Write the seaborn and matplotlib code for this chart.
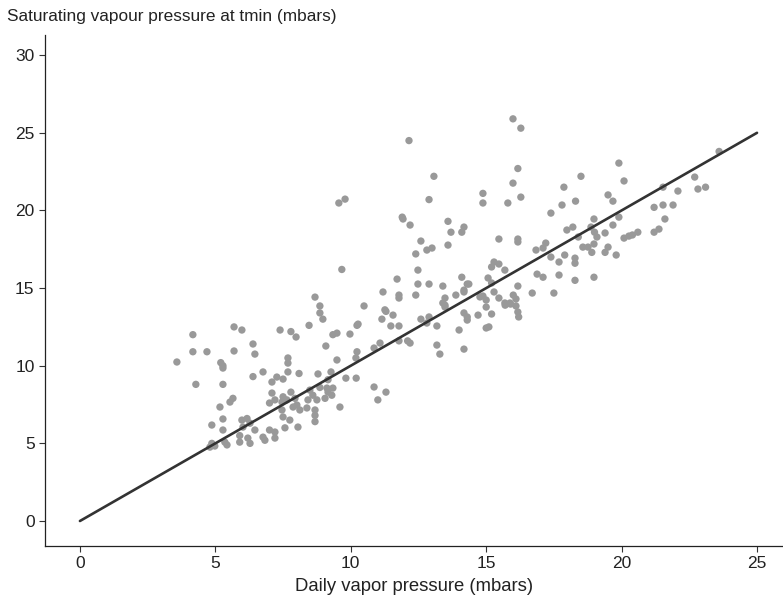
import matplotlib
matplotlib.use("Agg")
import matplotlib.pyplot as plt
import seaborn as sns
import pandas as pd

daily_vp = [
    3.58, 4.17, 4.17, 4.69, 4.28, 5.69, 5.98, 5.69, 6.39, 6.46, 5.2, 5.28, 5.28, 5.28, 6.39, 6.76, 7.09, 7.27, 7.5,
    7.39, 7.79, 7.98, 7.68, 7.68, 7.68, 8.09, 8.46, 8.86, 8.86, 8.97, 9.08, 9.34, 9.49, 9.97, 10.23, 9.49, 10.23,
    9.27, 9.16, 8.79, 9.82, 10.2, 9.34, 7.5, 7.64, 7.79, 7.46, 7.09, 7.2, 7.0, 5.65, 5.54, 5.17, 7.94, 8.01, 7.87,
    8.12, 8.38, 8.49, 8.6, 8.42, 8.75, 8.68, 8.68, 8.68, 8.86, 9.12, 9.05, 9.16, 9.3, 9.6, 7.46, 7.5, 7.75, 7.57,
    8.05, 5.98, 6.17, 6.28, 6.02, 6.46, 5.28, 4.87, 5.28, 7.0, 7.2, 6.76, 7.2, 5.9, 6.2, 6.28, 4.87, 4.8, 5.35,
    4.98, 5.43, 5.9, 6.83,
    9.56, 9.79, 9.67, 8.68, 11.19,
    10.49, 11.3, 11.56, 11.15, 11.48, 11.78, 10.27, 11.78, 12.1, 12.19, 11.08, 10.86, 10.19, 10.86, 11.3, 11.0,
    12.59, 12.89, 12.81, 13.18, 13.18, 13.29, 13.4, 13.48, 14.0, 14.18, 14.3, 14.3, 14.7, 14.18, 15.0, 15.1, 15.2,
    15.0, 15.0, 15.7, 15.9, 16.1, 16.17, 16.2,
    12.15, 13.07, 12.89, 11.9, 11.93, 12.19, 13.59, 13.7, 14.1, 14.18, 12.59, 12.4, 12.81, 13.0, 13.59, 14.88,
    14.88, 15.8, 15.99, 16.28, 16.17, 15.99, 16.28, 15.47, 16.17, 16.17, 17.39, 17.87, 17.8, 17.98, 12.48, 12.48,
    12.89, 11.71, 11.78, 11.78, 12.4, 11.26, 13.4, 14.1, 14.3, 14.36, 14.18, 14.18, 13.88, 13.48, 13.48, 15.29,
    15.47, 15.2, 15.69, 15.07, 15.2, 16.17, 14.88, 15.29, 15.47, 15.69, 15.88, 16.0, 16.1, 16.84, 17.1, 17.2,
    17.39, 17.69, 17.9, 16.88, 17.1, 17.69, 16.7, 17.5, 14.77,
    23.6, 22.7, 22.82, 23.1, 22.08, 21.53, 21.2, 21.53, 21.9, 21.6, 21.2, 21.38, 19.9, 20.09, 19.5, 19.68, 19.9,
    19.68, 19.39, 20.09, 20.27, 20.4, 20.6, 18.5, 18.3, 18.98, 18.2, 18.87, 19.0, 19.09, 18.4, 18.57, 18.76,
    18.98, 18.9, 19.39, 19.5, 19.8, 18.28, 18.28, 18.28, 18.98,
]
sat_vp = [
    10.24, 12.0, 10.9, 10.9, 8.8, 12.5, 12.3, 10.95, 11.4, 10.75, 10.2, 10.0, 9.85, 8.8, 9.3, 9.6, 8.95, 9.27, 9.14,
    12.3, 12.2, 11.85, 10.5, 10.17, 9.6, 9.5, 12.6, 13.85, 13.4, 13.0, 11.27, 12.0, 12.1, 12.04, 12.6, 10.37, 10.9,
    9.6, 9.1, 9.47, 9.2, 9.2, 8.56, 8.0, 7.8, 8.3, 7.66, 8.24, 7.8, 7.6, 7.9, 7.66, 7.34, 7.9, 7.47, 7.34,
    7.15, 7.28, 8.43, 8.1, 7.8, 7.8, 7.15, 6.8, 6.4, 8.6, 8.56, 7.9, 8.3, 8.1, 7.34, 7.15, 6.7, 6.5, 6.0,
    6.05, 6.5, 6.6, 6.3, 6.05, 5.86, 6.57, 6.18, 5.86, 5.86, 5.73, 5.4, 5.34, 5.5, 5.34, 5.0, 5.0, 4.76, 5.08,
    4.83, 4.9, 5.08, 5.2,
    20.48, 20.73, 16.2, 14.42, 14.75,
    13.85, 13.5, 13.26, 13.0, 12.56, 12.56, 12.68, 11.6, 11.6, 11.46, 11.46, 11.14, 10.5, 8.63, 8.3, 7.8,
    13.0, 13.14, 12.75, 12.56, 11.33, 10.75, 14.04, 13.78, 12.3, 13.4, 13.14, 12.94, 13.26, 11.07, 12.43, 12.5, 13.33,
    14.23, 13.78, 13.9, 13.97, 13.85, 13.46, 13.14,
    24.5, 22.2, 20.7, 19.57, 19.45, 19.06, 19.3, 18.6, 18.6, 18.93, 18.03, 17.2, 17.45, 17.58, 17.77, 21.1,
    20.48, 20.48, 25.9, 25.3, 22.7, 21.76, 20.86, 18.16, 18.16, 17.97, 19.83, 21.5, 20.35, 18.74, 16.16, 15.26,
    15.26, 15.58, 14.55, 14.36, 14.55, 13.6, 15.13, 15.7, 15.26, 15.26, 14.87, 14.75, 14.55, 14.36, 13.9, 16.68,
    16.55, 16.36, 16.16, 15.65, 15.33, 15.13, 14.49, 14.75, 14.36, 14.04, 14.04, 14.55, 14.3, 17.45, 17.58, 17.9,
    17.0, 16.68, 17.13, 15.9, 15.7, 15.84, 14.68, 14.68, 14.43,
    23.8, 22.15, 21.38, 21.5, 21.25, 21.5, 20.2, 20.35, 20.35, 19.45, 18.6, 18.8, 23.05, 21.9, 21.0, 20.6, 19.57,
    19.06, 18.55, 18.22, 18.35, 18.42, 18.6, 22.2, 20.6, 19.45, 18.93, 18.93, 18.6, 18.29, 18.29, 17.64, 17.64,
    17.84, 17.3, 17.3, 17.64, 17.13, 16.93, 16.6, 15.5, 15.7,
]
line_x = [0, 25]
line_y = [0, 25]
x_ticks = [0, 5, 10, 15, 20, 25]
y_ticks = [0, 5, 10, 15, 20, 25, 30]

sns.set_theme(style="ticks")
plt.rcParams["font.family"] = ["Liberation Sans", "DejaVu Sans"]

df = pd.DataFrame({"x": daily_vp, "y": sat_vp})
line_df = pd.DataFrame({"x": line_x, "y": line_y})

fig = plt.figure(figsize=(7.83, 6.01), dpi=100)
ax = fig.add_axes([45 / 783, 55 / 601, (783 - 45) / 783, (546 - 35) / 601])

sns.scatterplot(data=df, x="x", y="y", ax=ax, color="#999999", s=28, edgecolor="none", linewidth=0, zorder=2)
sns.lineplot(data=line_df, x="x", y="y", ax=ax, color="#333333", linewidth=1.9, zorder=3)

ax.set_xlim(-1.29, 25.96)
ax.set_ylim(-1.61, 31.3)
ax.set_xticks(x_ticks)
ax.set_yticks(y_ticks)
ax.tick_params(axis="both", labelsize=12.5, colors="#333333", length=4, width=0.8, labelcolor="#222222")
ax.set_xlabel("Daily vapor pressure (mbars)", fontsize=13.3, color="#222222", labelpad=5)
ax.set_ylabel("")
fig.text(7 / 783, 1 - 16 / 601, "Saturating vapour pressure at tmin (mbars)", fontsize=12.4,
         color="#222222", ha="left", va="center")
for s in ["top", "right"]:
    ax.spines[s].set_visible(False)
for s in ["left", "bottom"]:
    ax.spines[s].set_color("#222222")
    ax.spines[s].set_linewidth(0.9)

fig.savefig("out.png", dpi=100)
